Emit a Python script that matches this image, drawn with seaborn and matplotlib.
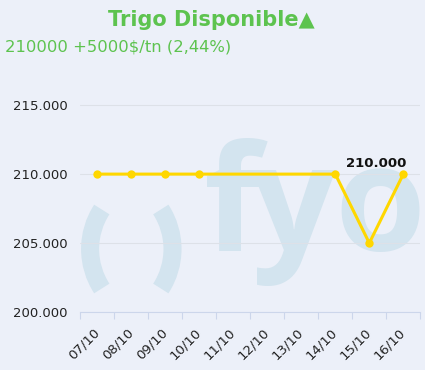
import numpy as np
import pandas as pd
import matplotlib
matplotlib.use("Agg")
import matplotlib.pyplot as plt
from matplotlib.patches import Arc
from matplotlib.transforms import IdentityTransform, ScaledTranslation
import seaborn as sns

dates = ["07/10", "08/10", "09/10", "10/10", "11/10", "12/10", "13/10", "14/10", "15/10", "16/10"]
prices = [210000, 210000, 210000, 210000, np.nan, np.nan, np.nan, 210000, 205000, 210000]
y_ticks = [200000, 205000, 210000, 215000]
y_tick_labels = ["200.000", "205.000", "210.000", "215.000"]
title = "Trigo Disponible\u25b2"
subtitle = "210000 +5000$/tn (2,44%)"
last_label = "210.000"
watermark = ["f", "y", "o"]

BG = "#ECF0F9"
GREEN = "#5DC34F"
LINE = "#FFD700"
WM = "#D3E4EF"

sns.set_theme(style="white")
plt.rcParams["font.family"] = ["DejaVu Sans"]

df = pd.DataFrame({"pos": np.arange(len(dates)), "date": dates, "price": prices}).dropna()

fig = plt.figure(figsize=(4.25, 3.7), dpi=100, facecolor=BG)
ax = fig.add_axes([80.3 / 425, 1 - 312 / 370, 340 / 425, 222 / 370])
ax.set_facecolor(BG)

# watermark logo (drawn inside the axes, beneath the data)
for ch, cxp in zip(watermark, [233, 293, 380]):
    ax.text(cxp / 425, 1 - 251 / 370, ch, transform=fig.transFigure, fontsize=106,
            color=WM, family="Open Sans", fontweight="bold", ha="center",
            va="baseline", zorder=0, clip_on=False)
for cx, t1, t2 in [(162.6, 147, 213), (100, -33, 33)]:
    ax.add_patch(Arc((cx, 121), 145, 145, theta1=t1, theta2=t2,
                     transform=IdentityTransform(), color=WM, lw=13, zorder=0,
                     clip_on=False))

sns.lineplot(data=df, x="pos", y="price", ax=ax, color=LINE, lw=2.2,
             marker="o", markersize=6, markeredgewidth=0, zorder=3)

ax.set_xlim(-0.5, len(dates) - 0.5)
ax.set_ylim(200000, 216100)
ax.set_yticks(y_ticks)
ax.set_yticklabels(y_tick_labels)
ax.set_xticks(np.arange(len(dates)))
ax.set_xticklabels(dates, rotation=45, ha="right", va="center", rotation_mode="anchor")
shift = ScaledTranslation(3 / 100, 0, fig.dpi_scale_trans)
for lbl in ax.get_xticklabels():
    lbl.set_transform(lbl.get_transform() + shift)
ax.set_xticks(np.arange(len(dates) + 1) - 0.5, minor=True)
ax.tick_params(axis="x", which="major", length=0, pad=13, labelsize=9.5, labelcolor="#222222")
ax.tick_params(axis="x", which="minor", length=5, width=0.8, color="#CCD6EB", bottom=True)
ax.tick_params(axis="y", length=0, pad=9, labelsize=9.5, labelcolor="#222222")
ax.set_xlabel("")
ax.set_ylabel("")
ax.set_axisbelow(True)
ax.grid(axis="y", color="#DDE1E8", lw=0.8, zorder=1)
ax.grid(axis="x", visible=False)
for s in ["top", "right", "left"]:
    ax.spines[s].set_visible(False)
ax.spines["bottom"].set_color("#CCD6EB")
ax.spines["bottom"].set_linewidth(0.8)

last = df.iloc[-1]
ax.annotate(last_label, (last["pos"], last["price"]), xytext=(-19.5, 7.5),
            textcoords="offset points", ha="center", va="center",
            fontsize=9.5, fontweight="bold", color="#111111", zorder=5)

fig.text(211 / 425, 1 - 20 / 370, title, ha="center", va="center",
         fontsize=15, fontweight="bold", color=GREEN)
fig.text(5 / 425, 1 - 47 / 370, subtitle, ha="left", va="center",
         fontsize=11.8, color=GREEN)

fig.savefig("out.png", dpi=100, facecolor=BG)
